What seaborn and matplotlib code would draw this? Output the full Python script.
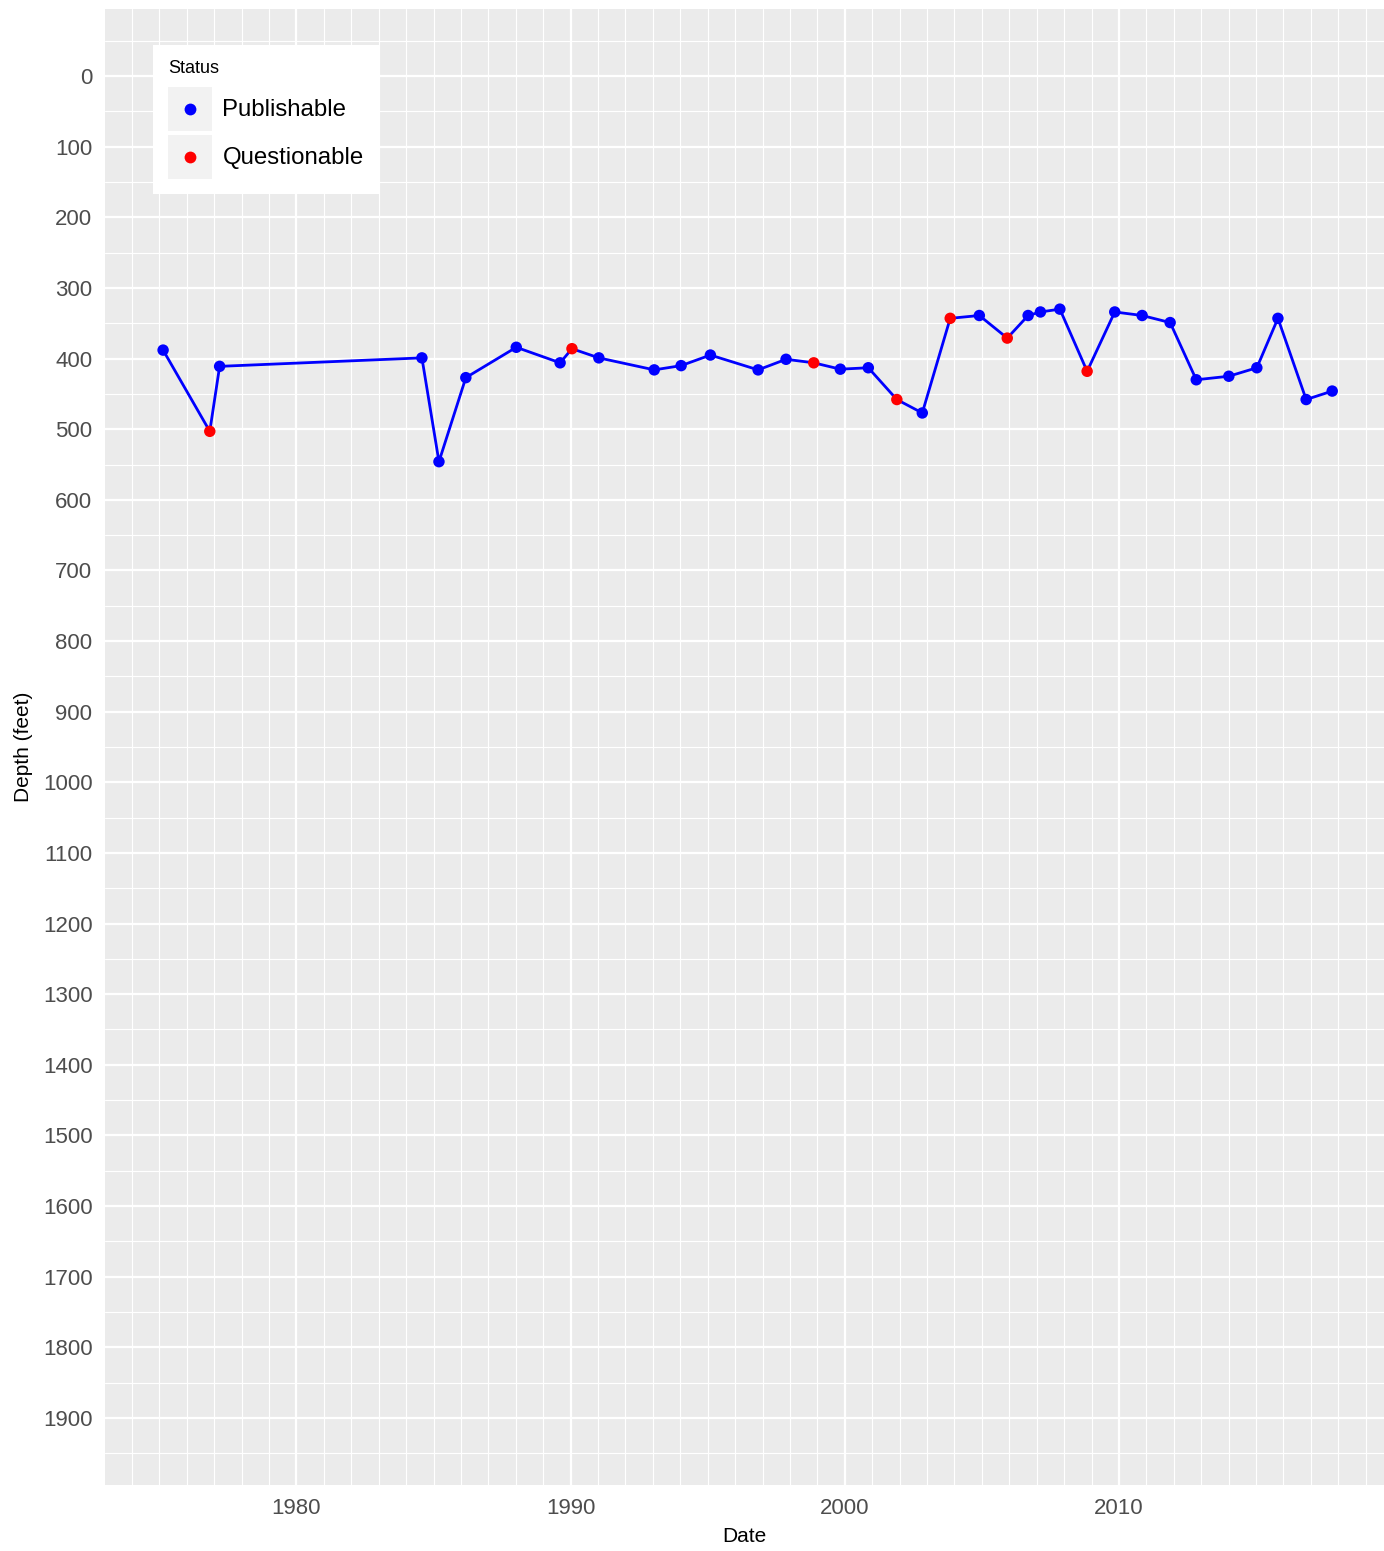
import matplotlib
matplotlib.use("Agg")
import matplotlib.pyplot as plt
import matplotlib.dates as mdates
from matplotlib.lines import Line2D
from matplotlib.patches import Rectangle
from matplotlib.legend_handler import HandlerBase
from matplotlib.ticker import MultipleLocator
import pandas as pd
import seaborn as sns

# Data
dates = ["1975-02-20", "1976-11-03", "1977-03-14", "1984-07-30", "1985-03-14",
         "1986-03-07", "1988-01-08", "1989-08-14", "1990-01-19", "1991-01-12",
         "1993-01-19", "1994-01-12", "1995-02-06", "1996-11-03", "1997-11-10",
         "1998-11-14", "1999-11-03", "2000-11-10", "2001-11-25", "2002-10-30",
         "2003-11-06", "2004-11-28", "2005-12-05", "2006-09-09", "2007-02-20",
         "2007-11-06", "2008-11-03", "2009-11-06", "2010-11-06", "2011-11-14",
         "2012-10-27", "2014-01-04", "2015-01-12", "2015-10-20", "2016-10-30",
         "2017-10-12"]
depth = [388, 503, 411, 399, 546, 427, 384, 406, 386, 399,
         416, 410, 395, 416, 401, 406, 415, 413, 458, 477,
         343, 339, 371, 339, 334, 330, 418, 334, 339, 349,
         430, 425, 413, 343, 458, 446]
status = ["Publishable", "Questionable", "Publishable", "Publishable", "Publishable",
          "Publishable", "Publishable", "Publishable", "Questionable", "Publishable",
          "Publishable", "Publishable", "Publishable", "Publishable", "Publishable",
          "Questionable", "Publishable", "Publishable", "Questionable", "Publishable",
          "Questionable", "Publishable", "Questionable", "Publishable", "Publishable",
          "Publishable", "Questionable", "Publishable", "Publishable", "Publishable",
          "Publishable", "Publishable", "Publishable", "Publishable", "Publishable",
          "Publishable"]
status_colors = {"Publishable": "#0000FF", "Questionable": "#FF0000"}

df = pd.DataFrame({"date": pd.to_datetime(dates), "depth": depth, "status": status})


class KeyHandler(HandlerBase):
    # grey key square with a centred dot, like a ggplot legend key
    def create_artists(self, legend, orig_handle, xdescent, ydescent,
                       width, height, fontsize, trans):
        rect = Rectangle((-xdescent, -ydescent), width, height,
                         facecolor="#F2F2F2", edgecolor="none", transform=trans)
        dot = Line2D([width / 2 - xdescent], [height / 2 - ydescent], marker="o",
                     linestyle="", markersize=8.5, markeredgewidth=0,
                     color=orig_handle.get_color(), transform=trans)
        return [rect, dot]


sns.set_style("darkgrid")
plt.rcParams["font.family"] = ["Liberation Sans", "DejaVu Sans"]
plt.rcParams["text.color"] = "black"

W, H = 1384, 1551
fig = plt.figure(figsize=(W / 100, H / 100), dpi=100)
ax = fig.add_axes([105 / W, (H - 1485) / H, (1384 - 105) / W, (1485 - 9) / H])
ax.set_facecolor("#EBEBEB")

sns.lineplot(data=df, x="date", y="depth", color="#0000FF", linewidth=2.0, ax=ax, zorder=3)
sns.scatterplot(data=df, x="date", y="depth", hue="status", palette=status_colors,
                s=68, linewidth=0, ax=ax, zorder=4, legend=False)

ax.set_xlim(pd.Timestamp("1973-01-07"), pd.Timestamp("2019-09-02"))
ax.set_ylim(1995, -95)

ax.xaxis.set_major_locator(mdates.YearLocator(10))
ax.xaxis.set_minor_locator(mdates.YearLocator(1))
ax.xaxis.set_major_formatter(mdates.DateFormatter("%Y"))
ax.yaxis.set_major_locator(MultipleLocator(100))
ax.yaxis.set_minor_locator(MultipleLocator(50))

ax.grid(which="major", color="white", linewidth=1.6)
ax.grid(which="minor", color="white", linewidth=0.8)
ax.set_axisbelow(True)
for sp in ax.spines.values():
    sp.set_visible(False)

ax.tick_params(which="major", length=5, width=1.1, color="#333333",
               labelsize=16, labelcolor="#4D4D4D", pad=4)
ax.tick_params(which="minor", length=0)

ax.set_xlabel("Date", fontsize=15, color="black", labelpad=6)
ax.set_ylabel("Depth (feet)", fontsize=15, color="black", labelpad=7)

handles = [Line2D([], [], color=c) for c in status_colors.values()]
leg = fig.legend(handles, list(status_colors.keys()), title="Status",
                 loc="upper left", bbox_to_anchor=(153 / W, 1 - 45 / H),
                 handler_map={Line2D: KeyHandler()},
                 fontsize=17.3, title_fontsize=13, frameon=True, fancybox=False,
                 handlelength=1.83, handleheight=2.44, handletextpad=0.42,
                 labelspacing=0.15, borderpad=0.64, borderaxespad=0,
                 labelcolor="black")
leg.get_title().set_color("black")
leg._legend_box.align = "left"
leg._legend_box.sep = 7.0
leg.get_frame().set_facecolor("white")
leg.get_frame().set_edgecolor("none")
leg.get_frame().set_alpha(1)

fig.savefig("out.png", dpi=100, facecolor="white")
